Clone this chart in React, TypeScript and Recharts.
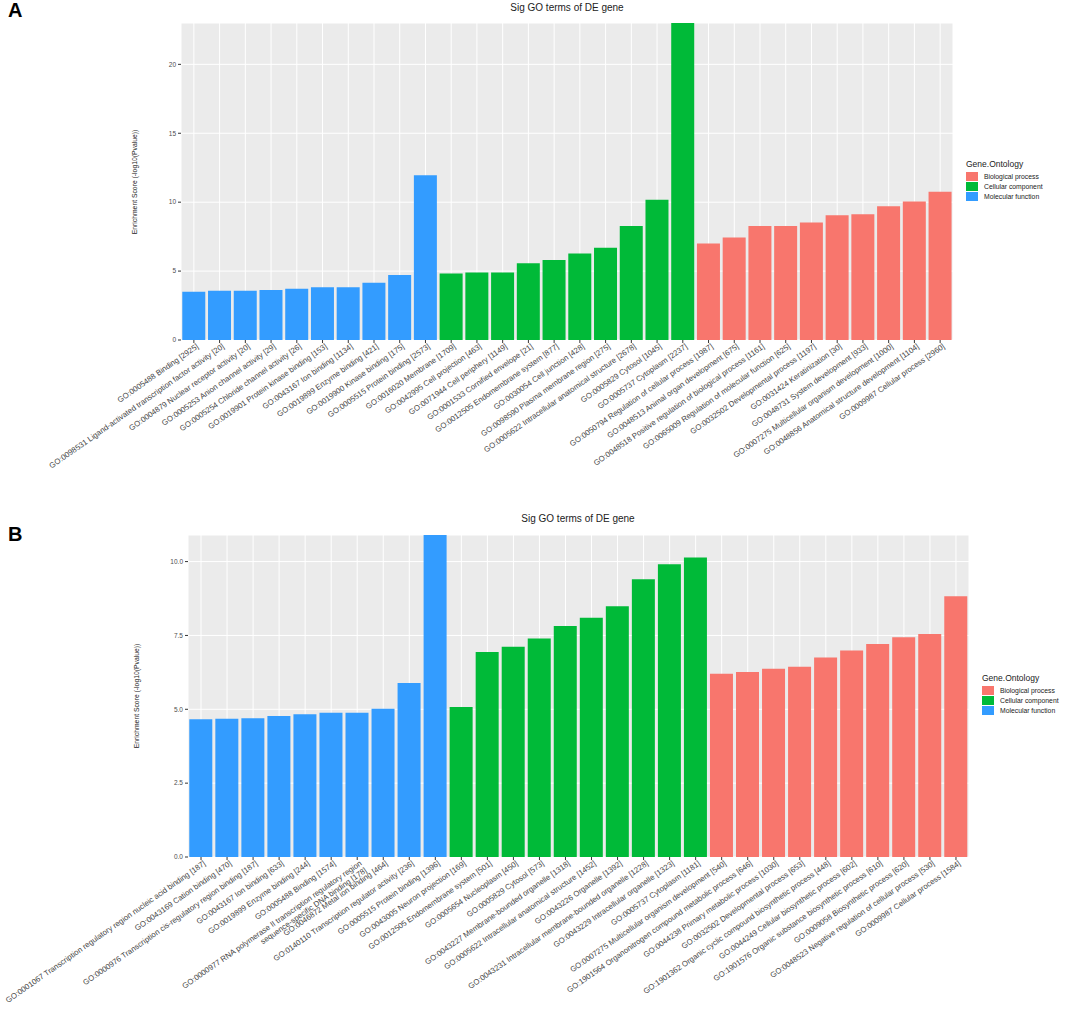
import React from "react";
import { BarChart, Bar, Cell, XAxis, YAxis, CartesianGrid } from "recharts";

const FONT = '"Liberation Sans", Arial, Helvetica, sans-serif';

const ontologyNames = ["Biological process", "Cellular component", "Molecular function"];
const ontologyColors = ["#F8766D", "#00BA38", "#339CFF"];

// panel A
const aMolTerms = [
  "GO:0005488 Binding [2925]",
  "GO:0098531 Ligand-activated transcription factor activity [20]",
  "GO:0004879 Nuclear receptor activity [20]",
  "GO:0005253 Anion channel activity [29]",
  "GO:0005254 Chloride channel activity [26]",
  "GO:0019901 Protein kinase binding [153]",
  "GO:0043167 Ion binding [1134]",
  "GO:0019899 Enzyme binding [421]",
  "GO:0019900 Kinase binding [175]",
  "GO:0005515 Protein binding [2573]",
];
const aMolScores = [3.5, 3.57, 3.57, 3.62, 3.72, 3.82, 3.82, 4.15, 4.71, 11.96];

const aCellTerms = [
  "GO:0016020 Membrane [1709]",
  "GO:0042995 Cell projection [463]",
  "GO:0071944 Cell periphery [1149]",
  "GO:0001533 Cornified envelope [21]",
  "GO:0012505 Endomembrane system [877]",
  "GO:0030054 Cell junction [428]",
  "GO:0098590 Plasma membrane region [275]",
  "GO:0005622 Intracellular anatomical structure [2678]",
  "GO:0005829 Cytosol [1045]",
  "GO:0005737 Cytoplasm [2237]",
];
const aCellScores = [4.83, 4.9, 4.9, 5.56, 5.8, 6.28, 6.69, 8.28, 10.17, 23];

const aBioTerms = [
  "GO:0050794 Regulation of cellular process [1987]",
  "GO:0048513 Animal organ development [675]",
  "GO:0048518 Positive regulation of biological process [1161]",
  "GO:0065009 Regulation of molecular function [625]",
  "GO:0032502 Developmental process [1197]",
  "GO:0031424 Keratinization [30]",
  "GO:0048731 System development [933]",
  "GO:0007275 Multicellular organism development [1000]",
  "GO:0048856 Anatomical structure development [1104]",
  "GO:0009987 Cellular process [2960]",
];
const aBioScores = [7.0, 7.44, 8.28, 8.28, 8.53, 9.06, 9.13, 9.71, 10.05, 10.75];

const aTicks = [0, 5, 10, 15, 20];
const aMinorTicks = [2.5, 7.5, 12.5, 17.5, 22.5];

// panel B
const bMolTerms = [
  "GO:0001067 Transcription regulatory region nucleic acid binding [187]",
  "GO:0043169 Cation binding [470]",
  "GO:0000976 Transcription cis-regulatory region binding [187]",
  "GO:0043167 Ion binding [633]",
  "GO:0019899 Enzyme binding [244]",
  "GO:0005488 Binding [1574]",
  "GO:0000977 RNA polymerase II transcription regulatory region\nsequence-specific DNA binding [178]",
  "GO:0046872 Metal ion binding [464]",
  "GO:0140110 Transcription regulator activity [236]",
  "GO:0005515 Protein binding [1396]",
];
const bMolScores = [4.66, 4.68, 4.7, 4.77, 4.83, 4.88, 4.88, 5.02, 5.89, 10.9];

const bCellTerms = [
  "GO:0043005 Neuron projection [169]",
  "GO:0012505 Endomembrane system [501]",
  "GO:0005654 Nucleoplasm [450]",
  "GO:0005829 Cytosol [573]",
  "GO:0043227 Membrane-bounded organelle [1318]",
  "GO:0005622 Intracellular anatomical structure [1452]",
  "GO:0043226 Organelle [1392]",
  "GO:0043231 Intracellular membrane-bounded organelle [1228]",
  "GO:0043229 Intracellular organelle [1323]",
  "GO:0005737 Cytoplasm [1181]",
];
const bCellScores = [5.08, 6.94, 7.12, 7.4, 7.82, 8.1, 8.49, 9.4, 9.91, 10.14];

const bBioTerms = [
  "GO:0007275 Multicellular organism development [540]",
  "GO:1901564 Organonitrogen compound metabolic process [646]",
  "GO:0044238 Primary metabolic process [1030]",
  "GO:0032502 Developmental process [653]",
  "GO:1901362 Organic cyclic compound biosynthetic process [448]",
  "GO:0044249 Cellular biosynthetic process [602]",
  "GO:1901576 Organic substance biosynthetic process [610]",
  "GO:0009058 Biosynthetic process [620]",
  "GO:0048523 Negative regulation of cellular process [530]",
  "GO:0009987 Cellular process [1584]",
];
const bBioScores = [6.2, 6.26, 6.37, 6.44, 6.75, 6.99, 7.21, 7.44, 7.55, 8.83];

const bTicks = [0, 2.5, 5, 7.5, 10];
const bMinorTicks = [1.25, 3.75, 6.25, 8.75];

const buildRows = (mol, molS, cell, cellS, bio, bioS) => [
  ...mol.map((term, i) => ({ term, score: molS[i], onto: 2 })),
  ...cell.map((term, i) => ({ term, score: cellS[i], onto: 1 })),
  ...bio.map((term, i) => ({ term, score: bioS[i], onto: 0 })),
];

const rowsA = buildRows(aMolTerms, aMolScores, aCellTerms, aCellScores, aBioTerms, aBioScores);
const rowsB = buildRows(bMolTerms, bMolScores, bCellTerms, bCellScores, bBioTerms, bBioScores);

const GoTick = (props) => {
  const { x, y, payload } = props;
  const lines = String(payload.value).split("\n");
  return (
    <g transform={`translate(${x + 2},${y - 2})`}>
      <text
        textAnchor="end"
        transform="rotate(-35)"
        fontSize={7.8}
        fill="#444"
        fontFamily={FONT}
      >
        {lines.map((line, i) => (
          <tspan key={i} x={0} dy={i === 0 ? "0.7em" : "1.1em"}>
            {line}
          </tspan>
        ))}
      </text>
    </g>
  );
};

const minorLines = (values) => ({ yAxis }) =>
  yAxis && typeof yAxis.scale === "function" ? values.map((v) => yAxis.scale(v)) : [];

const Legend = ({ left, top }) => (
  <div style={{ position: "absolute", left, top, fontFamily: FONT }}>
    <div style={{ fontSize: 8.5, color: "#222", marginBottom: 2 }}>Gene.Ontology</div>
    {ontologyNames.map((name, i) => (
      <div key={name} style={{ display: "flex", alignItems: "center", height: 10 }}>
        <div style={{ width: 12, height: 9, background: ontologyColors[i] }} />
        <div style={{ fontSize: 6.8, color: "#222", marginLeft: 6 }}>{name}</div>
      </div>
    ))}
  </div>
);

const Panel = ({ top, height, rows, ticks, minor, domain, margin, xHeight, fmt }) => (
  <div style={{ position: "absolute", left: 0, top, width: 1065, height }}>
    <BarChart width={1065} height={height} data={rows} margin={margin} barCategoryGap="5%">
      <CartesianGrid fill="#EBEBEB" stroke="#FFFFFF" strokeWidth={1} />
      <CartesianGrid
        vertical={false}
        fill="none"
        stroke="#FFFFFF"
        strokeWidth={0.5}
        horizontalCoordinatesGenerator={minorLines(minor)}
      />
      <XAxis
        dataKey="term"
        interval={0}
        axisLine={false}
        tickLine={{ stroke: "#333" }}
        tickSize={3}
        height={xHeight}
        tick={<GoTick />}
      />
      <YAxis
        type="number"
        domain={domain}
        ticks={ticks}
        allowDataOverflow
        axisLine={false}
        tickLine={{ stroke: "#333" }}
        tickSize={3}
        width={20}
        tickFormatter={fmt}
        tick={{ fontSize: 6.5, fill: "#4D4D4D", fontFamily: FONT }}
      />
      <Bar dataKey="score" isAnimationActive={false}>
        {rows.map((r, i) => (
          <Cell key={i} fill={ontologyColors[r.onto]} />
        ))}
      </Bar>
    </BarChart>
  </div>
);

const Title = ({ cx, top }) => (
  <div
    style={{
      position: "absolute",
      left: cx - 150,
      width: 300,
      top,
      textAlign: "center",
      fontSize: 10,
      color: "#222",
      fontFamily: FONT,
    }}
  >
    Sig GO terms of DE gene
  </div>
);

const YLabel = ({ cx, cy }) => (
  <div
    style={{
      position: "absolute",
      left: cx - 100,
      top: cy - 5,
      width: 200,
      height: 10,
      lineHeight: "10px",
      textAlign: "center",
      fontSize: 6.8,
      color: "#222",
      fontFamily: FONT,
      transform: "rotate(-90deg)",
    }}
  >
    Enrichment Score (-log10(Pvalue))
  </div>
);

const PanelLetter = ({ letter, top }) => (
  <div
    style={{
      position: "absolute",
      left: 8,
      top,
      fontSize: 20,
      fontWeight: "bold",
      fontFamily: FONT,
      lineHeight: "20px",
    }}
  >
    {letter}
  </div>
);

export default function App() {
  return (
    <div
      style={{
        position: "absolute",
        left: 0,
        top: 0,
        width: 1065,
        height: 1014,
        background: "#FFFFFF",
        overflow: "hidden",
      }}
    >
      <Panel
        top={0}
        height={480}
        rows={rowsA}
        ticks={aTicks}
        minor={aMinorTicks}
        domain={[0, 23]}
        margin={{ top: 23, right: 112, bottom: 0, left: 161 }}
        xHeight={140}
        fmt={(v) => String(v)}
      />
      <Panel
        top={490}
        height={524}
        rows={rowsB}
        ticks={bTicks}
        minor={bMinorTicks}
        domain={[0, 10.9]}
        margin={{ top: 45, right: 96, bottom: 0, left: 168 }}
        xHeight={157}
        fmt={(v) => v.toFixed(1)}
      />
      <PanelLetter letter="A" top={0} />
      <PanelLetter letter="B" top={524} />
      <Title cx={567} top={2} />
      <Title cx={578} top={513} />
      <YLabel cx={135} cy={182} />
      <YLabel cx={137} cy={696} />
      <Legend left={966} top={159} />
      <Legend left={982} top={673} />
    </div>
  );
}
